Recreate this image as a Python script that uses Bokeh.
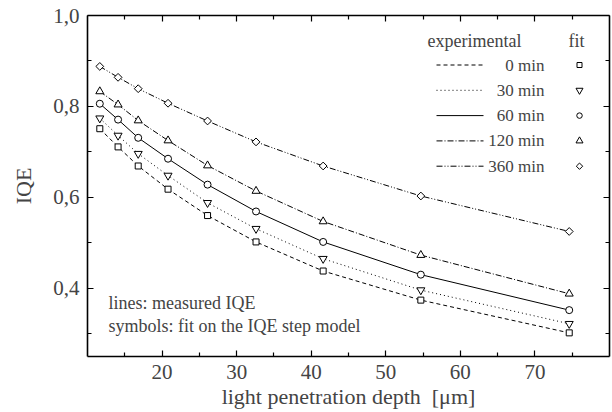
import numpy as np
from bokeh.plotting import figure
from bokeh.models import (LinearAxis, FixedTicker, CustomJSTickFormatter, Label, Range1d)
from bokeh.embed import file_html
from bokeh.resources import INLINE

# ---- data ----
depth = [11.65, 14.1, 16.8, 20.8, 26.1, 32.6, 41.6, 54.7, 74.6]
iqe_0 = [0.751, 0.711, 0.669, 0.618, 0.560, 0.502, 0.438, 0.374, 0.302]
iqe_30 = [0.774, 0.736, 0.696, 0.648, 0.588, 0.531, 0.465, 0.396, 0.322]
iqe_60 = [0.806, 0.771, 0.731, 0.685, 0.628, 0.569, 0.502, 0.430, 0.352]
iqe_120 = [0.833, 0.804, 0.769, 0.725, 0.670, 0.614, 0.547, 0.473, 0.388]
iqe_360 = [0.888, 0.864, 0.839, 0.807, 0.768, 0.722, 0.669, 0.603, 0.525]
series_labels = ["0 min", "30 min", "60 min", "120 min", "360 min"]
x_major = [20, 30, 40, 50, 60, 70]
x_minor = [15, 25, 35, 45, 55, 65, 75]
y_major = [0.4, 0.6, 0.8, 1.0]
y_minor = [0.3, 0.5, 0.7, 0.9]

FONT = "Liberation Serif"
X0, X1, Y0, Y1 = 10, 80, 0.25, 1.0
FW, FH, BL, BT = 522, 341, 87, 15

p = figure(frame_width=FW, frame_height=FH, output_backend="svg", toolbar_location=None,
           x_range=Range1d(X0, X1), y_range=Range1d(Y0, Y1),
           min_border_left=BL, min_border_right=3, min_border_top=BT, min_border_bottom=56,
           x_axis_label="light penetration depth\u00a0\u00a0[\u03bcm]", y_axis_label="IQE")
p.outline_line_color = None
p.xgrid.visible = False
p.ygrid.visible = False
p.background_fill_color = "white"
p.border_fill_color = "white"

xt = FixedTicker(ticks=x_major, minor_ticks=x_minor)
yt = FixedTicker(ticks=y_major, minor_ticks=y_minor)
fmt = CustomJSTickFormatter(code="return tick.toFixed(1).replace('.', ',');")
blank = CustomJSTickFormatter(code="return '';")

def style_axis(ax):
    ax.axis_line_width = 1.6
    ax.axis_line_color = "black"
    ax.major_tick_in = 6
    ax.major_tick_out = 0
    ax.minor_tick_in = 4
    ax.minor_tick_out = 0
    ax.major_tick_line_color = "black"
    ax.minor_tick_line_color = "black"
    ax.major_tick_line_width = 1.2
    ax.minor_tick_line_width = 1.2

for ax in p.xaxis:
    ax.ticker = xt
    style_axis(ax)
    ax.major_label_text_font = FONT
    ax.major_label_text_font_size = "21px"
    ax.major_label_standoff = 8
    ax.axis_label_text_font = FONT
    ax.axis_label_text_font_size = "22px"
    ax.axis_label_text_font_style = "normal"
    ax.axis_label_standoff = 2
for ax in p.yaxis:
    ax.ticker = yt
    ax.formatter = fmt
    style_axis(ax)
    ax.major_label_text_font = FONT
    ax.major_label_text_font_size = "21px"
    ax.major_label_standoff = 8
    ax.axis_label_text_font = FONT
    ax.axis_label_text_font_size = "22px"
    ax.axis_label_text_font_style = "normal"
    ax.axis_label_standoff = 14

top = LinearAxis(ticker=FixedTicker(ticks=x_major, minor_ticks=x_minor), formatter=blank,
                 major_label_standoff=0)
style_axis(top)
p.add_layout(top, "above")
right = LinearAxis(ticker=FixedTicker(ticks=y_major, minor_ticks=y_minor), formatter=blank,
                   major_label_standoff=0)
style_axis(right)
p.add_layout(right, "right")

series = [iqe_0, iqe_30, iqe_60, iqe_120, iqe_360]
dashes = ["4 3", "1 3", "solid", "6 2 1 2", "6 2 1 2 1 2"]
markers = ["square", "inverted_triangle", "circle", "triangle", "square"]
msizes = [6, 8, 7, 8, 5.5]
mangles = [0, 0, 0, 0, np.pi / 4]

for ys, dash, mk, ms, ang in zip(series, dashes, markers, msizes, mangles):
    p.line(depth, ys, line_color="black", line_width=1, line_dash=dash)
    p.scatter(depth, ys, marker=mk, size=ms, angle=ang, fill_color="white",
              line_color="black", line_width=1)

# ---- legend, placed by pixel position inside the frame ----
def dx(px):
    return X0 + (px - BL) * (X1 - X0) / FW

def dy(py):
    return Y1 - (py - BT) * (Y1 - Y0) / FH

p.add_layout(Label(x=dx(474), y=dy(40), text="experimental", text_font=FONT,
                   text_font_size="18px", text_align="center", text_baseline="middle"))
p.add_layout(Label(x=dx(576), y=dy(40), text="fit", text_font=FONT,
                   text_font_size="18px", text_align="center", text_baseline="middle"))
leg_sizes = [5, 7, 5.5, 7, 4.5]
for i, (lab, dash, mk, ms, ang) in enumerate(zip(series_labels, dashes, markers, leg_sizes, mangles)):
    yy = dy(64.5 + 25.3 * i)
    p.segment(x0=[dx(436)], y0=[yy], x1=[dx(483)], y1=[yy], line_color="black",
              line_width=1, line_dash=dash)
    p.add_layout(Label(x=dx(544), y=yy, text=lab, text_font=FONT, text_font_size="17px",
                       text_align="right", text_baseline="middle"))
    p.scatter([dx(579)], [yy], marker=mk, size=ms, angle=ang, fill_color="white",
              line_color="black", line_width=1)

p.add_layout(Label(x=dx(108), y=dy(302), text="lines: measured IQE", text_font=FONT,
                   text_font_size="18px", text_align="left", text_baseline="middle"))
p.add_layout(Label(x=dx(108), y=dy(325), text="symbols: fit on the IQE step model",
                   text_font=FONT, text_font_size="18px", text_align="left",
                   text_baseline="middle"))

open("out.html", "w").write(file_html(p, INLINE))
